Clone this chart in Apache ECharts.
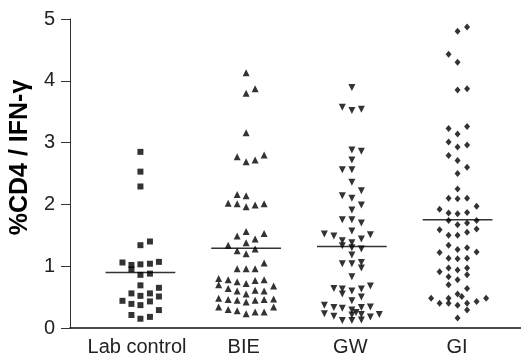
<!DOCTYPE html>
<html>
<head>
<meta charset="utf-8">
<script src="https://cdn.jsdelivr.net/npm/echarts@6/dist/echarts.min.js"></script>
<style>
  html, body { margin: 0; padding: 0; background: #fff; }
  #chart { width: 521px; height: 361px; }
</style>
</head>
<body>
<div id="chart"></div>
<script>
// groups on the x axis
const categories = ['Lab control', 'BIE', 'GW', 'GI'];

// [horizontal jitter, %CD4 / IFN-γ]
const labControl = [
  [0, 2.85], [0, 2.53], [0, 2.29], [0, 1.34], [0.09, 1.40],
  [-0.17, 1.06], [-0.085, 1.02], [-0.085, 0.95], [0, 1.03], [0.09, 1.04], [0.175, 1.07],
  [0, 0.86], [0.09, 0.88],
  [0, 0.69], [0.175, 0.65],
  [-0.085, 0.56], [0, 0.52], [0.09, 0.56], [0.175, 0.51],
  [-0.17, 0.44], [-0.085, 0.39], [0, 0.37], [0.09, 0.43], [0.175, 0.29],
  [-0.085, 0.21], [0, 0.15], [0.09, 0.18]
];
const bie = [
  [0, 4.13], [0.085, 3.87], [0, 3.80], [0, 3.16],
  [-0.085, 2.77], [0, 2.69], [0.085, 2.72], [0.17, 2.80],
  [-0.085, 2.16], [0, 2.14], [-0.17, 2.02], [-0.085, 2.01], [0, 1.96], [0.085, 1.99], [0.17, 2.01],
  [-0.085, 1.49], [0, 1.56], [0.085, 1.44], [0.17, 1.53], [0, 1.38], [-0.17, 1.34],
  [-0.085, 1.25], [0, 1.20], [0.085, 1.28],
  [0.17, 1.05], [-0.085, 0.96], [0, 0.96], [0.085, 0.96],
  [-0.26, 0.80], [-0.26, 0.70], [-0.17, 0.78], [-0.085, 0.75], [0, 0.72], [0.085, 0.77], [0.17, 0.78],
  [-0.17, 0.64], [-0.085, 0.60], [0, 0.55], [0.085, 0.61], [0.17, 0.60], [0.26, 0.68],
  [-0.26, 0.48], [-0.17, 0.46], [-0.085, 0.45], [0, 0.42], [0.085, 0.45], [0.17, 0.46], [0.26, 0.47],
  [-0.26, 0.34], [-0.17, 0.30], [-0.085, 0.28], [0, 0.23], [0.085, 0.26], [0.17, 0.26], [0.26, 0.34]
];
const gw = [
  [0, 3.89], [-0.09, 3.57], [0, 3.52], [0.09, 3.54],
  [0, 2.88], [0.09, 2.86], [0, 2.72], [-0.09, 2.56], [0, 2.56], [0, 2.36],
  [0.09, 2.22], [-0.09, 2.14], [0, 2.10], [0.09, 1.99], [0, 1.91],
  [-0.09, 1.75], [0, 1.75], [0.09, 1.70], [0, 1.57],
  [-0.26, 1.52], [-0.17, 1.49], [-0.09, 1.41], [0, 1.38], [0.09, 1.44], [0.175, 1.51],
  [-0.09, 1.33], [0, 1.30], [0.09, 1.28], [0, 1.18],
  [-0.09, 1.04], [0, 1.04], [0.09, 1.06], [0.09, 0.97], [0, 0.83],
  [-0.17, 0.64], [-0.09, 0.63], [-0.09, 0.55], [0, 0.60], [0.09, 0.63], [0.175, 0.68],
  [0, 0.44], [0.09, 0.50],
  [-0.26, 0.37], [-0.17, 0.33], [-0.09, 0.32], [0, 0.29], [0.04, 0.25], [0.09, 0.33], [0.175, 0.34],
  [-0.26, 0.23], [-0.17, 0.19], [0, 0.21], [0.09, 0.22], [0.175, 0.18], [0.26, 0.22],
  [-0.09, 0.12], [0, 0.12], [0.09, 0.13]
];
const gi = [
  [0.09, 4.87], [0, 4.80], [-0.085, 4.43], [0, 4.30], [0, 3.85], [0.09, 3.87],
  [-0.085, 3.23], [0, 3.14], [0.09, 3.26], [-0.085, 3.01], [0, 2.93], [0.09, 2.96],
  [-0.085, 2.79], [0, 2.71], [0.09, 2.60], [0, 2.50], [0, 2.25],
  [-0.085, 2.10], [0, 2.09], [0.09, 2.10], [0.18, 1.97],
  [-0.17, 1.92], [-0.085, 1.86], [0, 1.85], [0.09, 1.87],
  [-0.085, 1.74], [0, 1.67], [0.09, 1.70], [0.18, 1.74],
  [-0.17, 1.59], [-0.085, 1.50], [0, 1.50], [0.09, 1.55], [0.18, 1.60],
  [-0.085, 1.34], [0, 1.27], [0.09, 1.30], [-0.17, 1.22], [0.18, 1.23],
  [-0.085, 1.13], [0, 1.12], [0.09, 1.13],
  [-0.17, 0.91], [-0.085, 0.97], [0, 0.94], [0.09, 0.97], [0.09, 0.86],
  [-0.085, 0.83], [0, 0.78], [-0.085, 0.70], [0.09, 0.64],
  [0, 0.55], [0.04, 0.51], [-0.25, 0.48], [-0.17, 0.40], [-0.085, 0.48], [-0.085, 0.40],
  [0, 0.37], [0.09, 0.40], [0.09, 0.29], [0.18, 0.43], [0.27, 0.48], [0, 0.16]
];

// median bar of each group
const medians = [0.9, 1.29, 1.32, 1.75];

const groups = [labControl, bie, gw, gi];
const symbols = [
  { symbol: 'rect', symbolSize: 6, symbolRotate: 0 },
  { symbol: 'triangle', symbolSize: 7, symbolRotate: 0 },
  { symbol: 'triangle', symbolSize: 7, symbolRotate: 180 },
  { symbol: 'diamond', symbolSize: [6, 7], symbolRotate: 0 }
];

const myChart = echarts.init(document.getElementById('chart'));

const dotSeries = groups.map((g, i) => ({
  type: 'scatter',
  xAxisIndex: 0,
  yAxisIndex: 0,
  symbol: symbols[i].symbol,
  symbolSize: symbols[i].symbolSize,
  symbolRotate: symbols[i].symbolRotate,
  itemStyle: { color: '#000' },
  data: g.map((p) => [i + p[0], p[1]]),
}));

const medianSeries = medians.map((m, i) => ({
  type: 'line',
  xAxisIndex: 0,
  yAxisIndex: 0,
  symbol: 'none',
  lineStyle: { color: '#333', width: 1.5 },
  data: [[i - 0.33, m], [i + 0.33, m]],
  z: 1,
}));

const option = {
  animation: false,
  textStyle: { fontFamily: 'Liberation Sans, Arial, sans-serif' },
  grid: [
    { left: 66, right: 0, top: 19, bottom: 33 },
    // second grid only carries the category labels, aligned with the dot columns
    { left: 83.7, right: 10.7, top: 19, bottom: 33 },
  ],
  xAxis: [
    {
      type: 'value',
      gridIndex: 0,
      min: -0.666,
      max: 3.6,
      axisLine: { show: true, lineStyle: { color: '#111', width: 1.5 } },
      axisTick: { show: false },
      axisLabel: { show: false },
      splitLine: { show: false },
    },
    {
      type: 'category',
      gridIndex: 1,
      data: categories,
      axisLine: { show: false },
      axisTick: { show: false },
      axisLabel: { fontSize: 20, color: '#222', margin: 9, interval: 0 },
    },
  ],
  yAxis: [
    {
      type: 'value',
      gridIndex: 0,
      min: 0,
      max: 5,
      interval: 1,
      name: '%CD4 / IFN-γ',
      nameLocation: 'middle',
      nameGap: 29,
      nameTextStyle: {
        fontSize: 25,
        fontWeight: 'bold',
        color: '#000',
        padding: [0, 0, 0, 32],
      },
      axisLine: { show: true, onZero: false, lineStyle: { color: '#333', width: 1 } },
      axisTick: { show: true, length: 9, lineStyle: { color: '#333' } },
      axisLabel: { fontSize: 20, color: '#222', margin: 15 },
      splitLine: { show: false },
    },
    { type: 'value', gridIndex: 1, show: false },
  ],
  series: [...medianSeries, ...dotSeries],
};

option && myChart.setOption(option);
</script>
</body>
</html>
